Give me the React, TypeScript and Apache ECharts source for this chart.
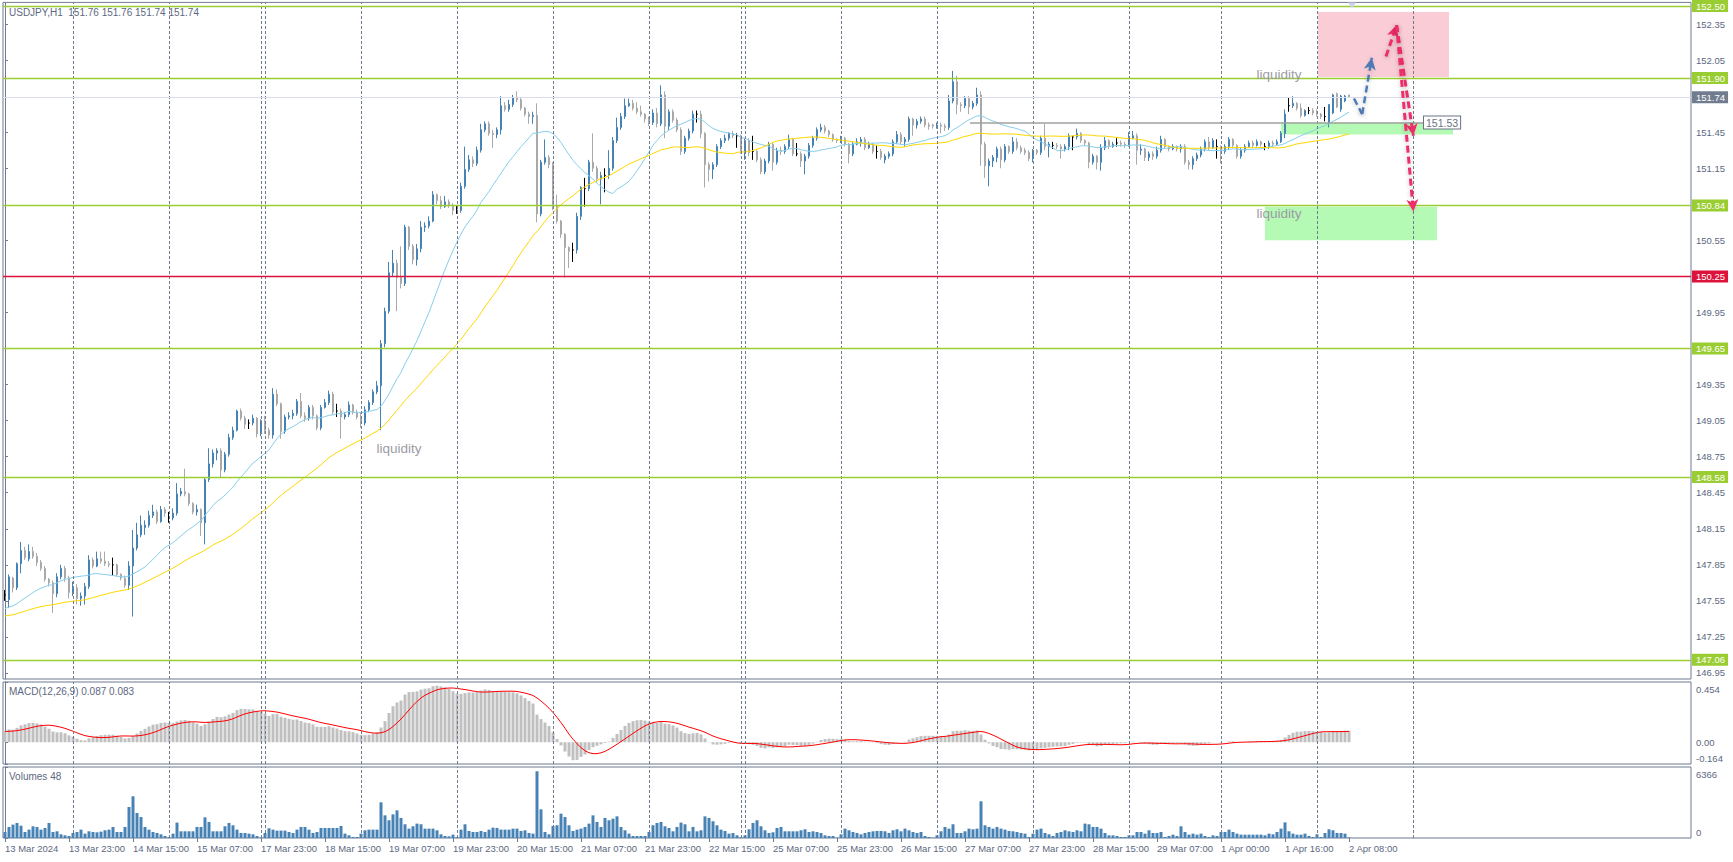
import { useEffect, useRef } from 'react';
import * as echarts from 'echarts';

// ---------------- DATA ----------------
const opens = [
  147.60,147.56,147.74,147.66,147.86,147.97,147.90,147.96,147.92,147.87,
  147.82,147.73,147.70,147.61,147.75,147.82,147.74,147.62,147.66,147.57,
  147.59,147.67,147.89,147.84,147.90,147.88,147.86,147.85,147.85,147.77,
  147.74,147.68,147.84,147.99,148.10,148.16,148.18,148.26,148.29,148.21,
  148.31,148.24,148.24,148.28,148.44,148.46,148.44,148.36,148.29,148.31,
  148.20,148.56,148.69,148.78,148.80,148.64,148.77,148.91,148.97,149.13,
  149.07,149.03,149.03,149.07,148.94,149.05,148.97,148.93,149.27,149.19,
  148.96,149.08,149.09,149.11,149.21,149.09,149.07,149.16,149.09,148.99,
  149.16,149.20,149.27,149.13,149.13,149.08,149.10,149.18,149.12,149.08,
  149.03,149.14,149.20,149.29,149.34,149.69,149.96,150.28,150.36,150.24,
  150.19,150.66,150.50,150.39,150.48,150.66,150.67,150.71,150.93,150.88,
  150.83,150.87,150.84,150.80,150.80,151.00,151.14,151.22,151.19,151.30,
  151.47,151.52,151.44,151.43,151.47,151.67,151.64,151.68,151.74,151.72,
  151.65,151.60,151.58,151.59,150.77,151.20,151.24,151.18,150.84,150.71,
  150.60,150.49,150.47,150.47,150.75,150.98,150.98,151.20,151.15,151.06,
  151.09,151.09,151.15,151.38,151.49,151.58,151.67,151.69,151.65,151.62,
  151.60,151.56,151.53,151.61,151.52,151.76,151.50,151.62,151.55,151.47,
  151.29,151.40,151.46,151.60,151.60,151.44,151.18,151.14,151.18,151.33,
  151.38,151.40,151.44,151.42,151.42,151.29,151.38,151.29,151.29,151.22,
  151.12,151.21,151.35,151.20,151.30,151.29,151.33,151.39,151.27,151.27,
  151.21,151.25,151.34,151.40,151.47,151.49,151.46,151.43,151.39,151.38,
  151.40,151.35,151.27,151.35,151.37,151.39,151.32,151.35,151.29,151.29,
  151.22,151.25,151.27,151.37,151.43,151.37,151.39,151.56,151.51,151.54,
  151.56,151.51,151.51,151.50,151.51,151.50,151.49,151.71,151.87,151.68,
  151.67,151.73,151.66,151.69,151.76,151.35,151.17,151.21,151.24,151.31,
  151.22,151.33,151.29,151.37,151.32,151.30,151.28,151.23,151.30,151.28,
  151.40,151.33,151.34,151.34,151.33,151.31,151.33,151.41,151.41,151.44,
  151.38,151.36,151.20,151.25,151.20,151.32,151.38,151.33,151.36,151.36,
  151.35,151.34,151.40,151.42,151.30,151.31,151.24,151.27,151.25,151.30,
  151.39,151.33,151.31,151.33,151.31,151.33,151.20,151.18,151.23,151.26,
  151.31,151.37,151.32,151.33,151.33,151.29,151.33,151.39,151.34,151.25,
  151.30,151.33,151.36,151.34,151.37,151.33,151.33,151.36,151.35,151.37,
  151.44,151.67,151.67,151.69,151.65,151.59,151.63,151.63,151.61,151.60,
  151.58,151.52,151.61,151.77,151.64,151.71,151.76
];
const highs = [
  147.64,147.77,147.75,147.87,148.04,148.00,148.02,148.00,147.95,147.89,
  147.84,147.74,147.72,147.78,147.85,147.84,147.76,147.71,147.69,147.62,
  147.70,147.93,147.91,147.96,147.96,147.96,147.88,147.91,147.86,147.78,
  147.76,147.88,148.14,148.20,148.26,148.22,148.30,148.35,148.31,148.34,
  148.33,148.29,148.32,148.53,148.49,148.65,148.45,148.37,148.35,148.32,
  148.58,148.82,148.81,148.82,148.82,148.79,148.94,149.00,149.14,149.15,
  149.09,149.06,149.10,149.08,149.06,149.09,148.99,149.32,149.31,149.20,
  149.10,149.12,149.14,149.23,149.28,149.12,149.18,149.18,149.10,149.18,
  149.23,149.30,149.29,149.19,149.15,149.12,149.21,149.19,149.14,149.12,
  149.17,149.22,149.31,149.38,149.72,149.99,150.37,150.47,150.39,150.50,
  150.68,150.67,150.52,150.52,150.71,150.70,150.75,150.96,150.94,150.92,
  150.92,150.89,150.86,150.84,151.03,151.33,151.26,151.25,151.33,151.52,
  151.54,151.54,151.47,151.49,151.75,151.70,151.72,151.76,151.79,151.74,
  151.66,151.62,151.62,151.69,151.22,151.39,151.26,151.20,150.93,150.72,
  150.61,150.50,150.53,150.78,151.00,151.07,151.22,151.44,151.17,151.12,
  151.15,151.30,151.41,151.57,151.61,151.73,151.73,151.72,151.70,151.67,
  151.61,151.58,151.64,151.65,151.84,151.79,151.64,151.64,151.57,151.49,
  151.42,151.48,151.63,151.63,151.63,151.45,151.20,151.20,151.35,151.40,
  151.43,151.45,151.46,151.44,151.43,151.40,151.40,151.42,151.31,151.24,
  151.23,151.37,151.36,151.32,151.33,151.35,151.43,151.40,151.36,151.29,
  151.27,151.36,151.42,151.49,151.52,151.51,151.47,151.44,151.40,151.42,
  151.41,151.36,151.37,151.40,151.41,151.41,151.37,151.36,151.34,151.31,
  151.27,151.29,151.39,151.46,151.45,151.41,151.58,151.57,151.56,151.58,
  151.58,151.53,151.52,151.53,151.53,151.52,151.76,151.96,151.92,151.70,
  151.75,151.75,151.71,151.82,151.79,151.37,151.23,151.26,151.33,151.33,
  151.35,151.34,151.41,151.40,151.34,151.32,151.30,151.31,151.31,151.42,
  151.52,151.37,151.37,151.36,151.35,151.35,151.44,151.42,151.48,151.45,
  151.39,151.37,151.27,151.26,151.35,151.41,151.39,151.37,151.40,151.38,
  151.37,151.45,151.46,151.44,151.35,151.32,151.29,151.29,151.33,151.42,
  151.40,151.34,151.35,151.34,151.35,151.35,151.22,151.25,151.28,151.33,
  151.39,151.41,151.40,151.39,151.34,151.35,151.41,151.40,151.35,151.32,
  151.35,151.38,151.38,151.39,151.38,151.36,151.38,151.38,151.39,151.46,
  151.64,151.74,151.75,151.70,151.69,151.64,151.66,151.65,151.64,151.61,
  151.66,151.68,151.77,151.78,151.76,151.76,151.76
];
const lows = [
  147.55,147.49,147.62,147.64,147.78,147.89,147.88,147.90,147.84,147.80,
  147.71,147.67,147.45,147.58,147.73,147.71,147.57,147.59,147.52,147.51,
  147.52,147.65,147.82,147.83,147.86,147.84,147.83,147.76,147.75,147.72,
  147.66,147.64,147.42,147.97,148.08,148.10,148.16,148.24,148.19,148.20,
  148.25,148.20,148.22,148.26,148.42,148.42,148.34,148.27,148.26,148.09,
  148.02,148.54,148.66,148.72,148.58,148.62,148.75,148.89,148.96,149.05,
  148.98,148.98,149.01,148.91,148.92,148.94,148.90,148.90,149.17,148.90,
  148.94,149.06,149.06,149.09,149.07,149.04,149.05,149.06,148.97,148.97,
  149.15,149.18,149.10,149.08,148.90,149.06,149.08,149.10,149.06,148.99,
  149.01,149.12,149.18,149.27,148.97,149.66,149.94,150.25,149.96,150.15,
  150.17,150.47,150.35,150.34,150.45,150.62,150.65,150.70,150.85,150.81,
  150.82,150.82,150.76,150.77,150.78,150.98,151.12,151.16,151.17,151.28,
  151.45,151.42,151.32,151.40,151.43,151.62,151.62,151.66,151.70,151.63,
  151.58,151.52,151.52,150.70,150.75,151.18,151.15,150.80,150.69,150.57,
  150.24,150.32,150.37,150.44,150.72,150.83,150.96,151.12,151.03,150.85,
  150.95,151.06,151.13,151.36,151.47,151.56,151.66,151.63,151.60,151.58,
  151.53,151.50,151.51,151.49,151.50,151.40,151.47,151.53,151.45,151.26,
  151.27,151.38,151.44,151.53,151.40,150.99,151.04,151.06,151.16,151.31,
  151.36,151.38,151.40,151.32,151.27,151.22,151.25,151.22,151.20,151.10,
  151.10,151.19,151.13,151.18,151.26,151.27,151.31,151.25,151.25,151.16,
  151.10,151.23,151.32,151.38,151.45,151.44,151.41,151.37,151.36,151.36,
  151.33,151.19,151.25,151.34,151.33,151.30,151.31,151.27,151.23,151.22,
  151.19,151.23,151.25,151.35,151.35,151.33,151.37,151.42,151.48,151.52,
  151.49,151.47,151.48,151.48,151.44,151.46,151.47,151.69,151.60,151.62,
  151.65,151.60,151.64,151.67,151.17,151.07,151.00,151.16,151.20,151.15,
  151.20,151.27,151.27,151.30,151.27,151.26,151.21,151.20,151.26,151.26,
  151.30,151.24,151.31,151.31,151.23,151.29,151.30,151.30,151.39,151.36,
  151.34,151.15,151.18,151.14,151.13,151.30,151.31,151.32,151.33,151.33,
  151.32,151.33,151.39,151.18,151.26,151.21,151.21,151.22,151.23,151.28,
  151.31,151.29,151.30,151.29,151.28,151.18,151.14,151.14,151.21,151.24,
  151.29,151.30,151.31,151.23,151.19,151.27,151.31,151.32,151.23,151.23,
  151.28,151.32,151.32,151.33,151.33,151.30,151.31,151.33,151.34,151.36,
  151.40,151.62,151.65,151.63,151.57,151.58,151.60,151.59,151.58,151.56,
  151.54,151.49,151.60,151.65,151.62,151.70,151.74
];
const closes = [
  147.60,147.75,147.66,147.86,147.97,147.91,147.96,147.92,147.87,147.82,
  147.73,147.70,147.61,147.75,147.82,147.74,147.62,147.66,147.57,147.59,
  147.67,147.89,147.84,147.90,147.88,147.86,147.85,147.85,147.77,147.74,
  147.68,147.84,147.99,148.10,148.18,148.18,148.26,148.29,148.21,148.31,
  148.28,148.24,148.28,148.44,148.46,148.44,148.36,148.29,148.31,148.20,
  148.56,148.69,148.78,148.80,148.64,148.77,148.91,148.97,149.13,149.07,
  149.02,149.03,149.07,148.94,149.05,148.97,148.93,149.27,149.19,148.96,
  149.08,149.09,149.11,149.21,149.09,149.07,149.16,149.09,148.99,149.16,
  149.20,149.27,149.12,149.13,149.08,149.10,149.18,149.12,149.08,149.03,
  149.14,149.20,149.29,149.34,149.69,149.96,150.28,150.36,150.24,150.19,
  150.66,150.50,150.39,150.48,150.66,150.67,150.71,150.93,150.88,150.83,
  150.87,150.84,150.80,150.80,151.00,151.14,151.22,151.19,151.30,151.47,
  151.52,151.44,151.43,151.47,151.67,151.64,151.68,151.74,151.72,151.65,
  151.60,151.58,151.59,150.77,151.20,151.24,151.18,150.84,150.71,150.60,
  150.49,150.46,150.47,150.75,150.99,150.98,151.20,151.15,151.06,151.09,
  151.09,151.15,151.38,151.49,151.58,151.67,151.69,151.65,151.62,151.60,
  151.56,151.53,151.61,151.52,151.76,151.50,151.62,151.55,151.47,151.29,
  151.40,151.46,151.60,151.60,151.44,151.18,151.14,151.18,151.33,151.38,
  151.40,151.44,151.42,151.42,151.29,151.38,151.28,151.29,151.22,151.12,
  151.21,151.35,151.20,151.30,151.29,151.33,151.39,151.27,151.27,151.21,
  151.25,151.34,151.40,151.47,151.49,151.46,151.43,151.39,151.38,151.40,
  151.35,151.27,151.35,151.37,151.39,151.32,151.35,151.29,151.29,151.24,
  151.25,151.27,151.37,151.43,151.37,151.39,151.56,151.51,151.54,151.56,
  151.51,151.50,151.50,151.51,151.50,151.49,151.71,151.87,151.68,151.67,
  151.73,151.66,151.69,151.76,151.35,151.17,151.21,151.24,151.31,151.22,
  151.33,151.29,151.37,151.32,151.29,151.28,151.23,151.30,151.28,151.40,
  151.33,151.35,151.34,151.33,151.31,151.33,151.42,151.41,151.44,151.38,
  151.36,151.20,151.25,151.20,151.32,151.38,151.33,151.35,151.36,151.35,
  151.34,151.40,151.42,151.30,151.31,151.24,151.27,151.25,151.30,151.39,
  151.33,151.31,151.33,151.31,151.33,151.20,151.18,151.23,151.26,151.31,
  151.37,151.32,151.38,151.33,151.29,151.33,151.39,151.34,151.25,151.30,
  151.33,151.36,151.34,151.37,151.35,151.33,151.36,151.35,151.37,151.44,
  151.60,151.67,151.69,151.65,151.59,151.63,151.63,151.61,151.60,151.58,
  151.58,151.68,151.76,151.66,151.75,151.75,151.74
];
const volumes = [
  540,990,1200,1350,1100,540,750,1050,990,750,
  900,1350,540,600,330,240,180,450,540,750,
  390,600,540,510,570,690,750,990,540,540,
  990,2780,3740,2240,1880,990,750,540,450,330,
  180,90,390,1380,600,600,600,600,990,990,
  1850,1440,600,600,600,1050,1350,1140,750,450,
  450,390,330,180,50,450,870,750,660,660,
  660,540,450,750,990,990,750,450,540,900,
  900,900,900,900,1080,390,240,90,90,390,
  690,750,750,750,3200,2030,1590,2120,2480,1800,
  1230,840,1050,1290,1230,840,840,840,690,330,
  180,150,300,90,750,1230,630,540,540,630,
  540,750,930,900,750,750,750,840,840,630,
  690,450,390,5980,2570,540,330,1080,1140,2180,
  1880,1140,630,750,840,990,1290,2030,1440,990,
  1800,1590,1730,1940,990,690,390,180,180,180,
  180,540,1140,1350,1440,1050,900,600,990,1380,
  1230,600,990,600,690,1940,1800,1500,1140,750,
  630,390,450,240,90,240,780,1350,1590,1050,
  690,450,510,900,990,600,600,600,600,690,
  780,540,600,540,450,240,180,180,30,330,
  840,690,540,450,330,450,540,600,630,630,
  600,450,690,780,600,840,690,540,450,540,
  180,90,30,240,600,990,840,1230,450,450,
  600,840,780,840,3290,1140,990,840,990,840,
  750,630,600,540,450,390,90,390,750,840,
  450,330,180,450,540,690,600,540,690,600,
  1290,1230,990,990,840,450,240,240,180,90,
  90,240,240,540,540,390,690,450,450,540,
  90,180,300,180,1050,540,300,390,300,390,
  180,90,240,180,540,540,750,540,390,300,
  300,300,300,300,300,240,390,330,540,840,
  1400,600,390,300,300,390,180,90,330,90,
  450,780,690,450,450,390,48
];

const xTickLabels = [
  '13 Mar 2024','13 Mar 23:00','14 Mar 15:00','15 Mar 07:00','17 Mar 23:00','18 Mar 15:00',
  '19 Mar 07:00','19 Mar 23:00','20 Mar 15:00','21 Mar 07:00','21 Mar 23:00','22 Mar 15:00',
  '25 Mar 07:00','25 Mar 23:00','26 Mar 15:00','27 Mar 07:00','27 Mar 23:00','28 Mar 15:00',
  '29 Mar 07:00','1 Apr 00:00','1 Apr 16:00','2 Apr 08:00'
];
const xTickStep = 16;
const daySeparatorBars = [17,41,64,65,89,113,137,161,184,185,209,233,257,281,304,328,352];

const priceTicks = [152.35,152.05,151.45,151.15,150.55,149.95,149.35,149.05,148.75,148.45,148.15,147.85,147.55,147.25,146.95];
const greenLevels = [152.50,151.90,150.84,149.65,148.58,147.06];
const redLevels = [150.25];
const lastPrice = 151.74;
const grayLevel = 151.53;

const macdTickValues = [0.454, 0, -0.164];
const macdTickLabels = ['0.454', '0.00', '-0.164'];
const volTickValues = [6366, 0];
const volTickLabels = ['6366', '0'];

// seeds at the first bar (pre-history levels)
const maFastPeriod = 20, maFastSeed = 147.48;
const maSlowPeriod = 50, maSlowSeed = 147.42;
const ema12Seed = 147.55, ema26Seed = 147.46, macdSeed = 0.08;

// annotation zones (bar index, price)
const pinkZone = [[328.25, 152.45], [361, 151.91]];
const greenZoneSmall = [[319, 151.53], [362, 151.43]];
const greenZoneLow = [[315, 150.83], [358, 150.55]];
const liquidityNotes = [[318.5, 151.93], [318.5, 150.77], [98.5, 148.82]];
const blueArrow = [[337.25, 151.73], [339.3, 151.60], [341.7, 152.07]];
const pinkArrowUp = [[345.25, 152.08], [347.9, 152.34]];
const pinkArrowDown1 = [[347.9, 152.34], [352.1, 151.42]];
const pinkArrowDown2 = [[347.9, 152.34], [352.1, 150.79]];
const grayLevelRange = [241.25, 354.75];

// ---------------- helpers ----------------
function sma(period: number, seed: number) {
  return closes.map((_, i) => {
    let s = 0;
    for (let k = i - period + 1; k <= i; k++) s += k >= 0 ? closes[k] : seed;
    return s / period;
  });
}
function ema(period: number, seed: number) {
  const a = 2 / (period + 1);
  let e = seed;
  return closes.map((c) => (e = e + a * (c - e)));
}

const FONT = '"Liberation Sans", Arial, sans-serif';
const FRAME = '#6f7b90';
const TXT = '#5d6880';
const SEP = '#6d7a8f';

export default function App() {
  const ref = useRef<HTMLDivElement>(null);
  useEffect(() => {
    const chart = echarts.init(ref.current!, null, { renderer: 'svg' });

    const maFast = sma(maFastPeriod, maFastSeed);
    const maSlow = sma(maSlowPeriod, maSlowSeed);
    const e12 = ema(12, ema12Seed);
    const e26 = ema(26, ema26Seed);
    const macd = e12.map((v, i) => v - e26[i]);
    const signal = macd.map((_, i) => {
      let s = 0;
      for (let k = i - 8; k <= i; k++) s += k >= 0 ? macd[k] : macdSeed;
      return s / 9;
    });

    const candleData = closes.map((c, i) => [i, opens[i], c, lows[i], highs[i]]);
    const sepLines = daySeparatorBars.map((b) => ({ xAxis: b }));
    const sepMarkLine = {
      silent: true,
      symbol: ['none', 'none'],
      label: { show: false },
      lineStyle: { color: SEP, width: 1, type: [3, 2] },
      data: sepLines,
      animation: false,
    };

    const richBase = { fontSize: 9.5, fontFamily: FONT, padding: [1, 3, 1, 4], lineHeight: 10 };
    const yRich = {
      n: { ...richBase, color: TXT },
      g: { ...richBase, color: '#ffffff', backgroundColor: '#9ACD32' },
      r: { ...richBase, color: '#ffffff', backgroundColor: '#DC143C' },
      c: { ...richBase, color: '#ffffff', backgroundColor: '#717d8f' },
      t: { ...richBase, color: TXT, padding: [15, 3, 1, 4] },
      b: { ...richBase, color: TXT, padding: [1, 3, 13, 4] },
    };
    const fmt2 = (v: number) => v.toFixed(2);
    const mainLabelValues = [...priceTicks, ...greenLevels, ...redLevels, lastPrice];

    const arrowSeg = (p: number[][], color: string, width: number, arrow: boolean) => [
      {
        coord: p[0],
        symbol: 'none',
        lineStyle: { color, width, type: [7, 4], shadowBlur: 4, shadowColor: 'rgba(0,0,0,0.25)', shadowOffsetY: 1 },
      },
      { coord: p[1], symbol: arrow ? 'arrow' : 'none', symbolSize: [9, 12], itemStyle: { color } },
    ];
    const BLUE_ARROW = '#4f7bb5';
    const PINK_ARROW = '#ee2d6b';

    const xBase = {
      type: 'value',
      min: -0.5,
      max: 421.5,
      splitLine: { show: false },
      axisLine: { show: false },
      axisTick: { show: false },
      axisLabel: { show: false },
    };

    const option: any = {
      animation: false,
      backgroundColor: '#ffffff',
      textStyle: { fontFamily: FONT },
      title: [
        { text: 'USDJPY,H1  151.76 151.76 151.74 151.74', left: 9, top: 7, padding: 0, textStyle: { fontSize: 10, fontWeight: 'normal', color: TXT, fontFamily: FONT } },
        { text: 'MACD(12,26,9) 0.087 0.083', left: 9, top: 686, padding: 0, textStyle: { fontSize: 10, fontWeight: 'normal', color: TXT, fontFamily: FONT } },
        { text: 'Volumes 48', left: 9, top: 771, padding: 0, textStyle: { fontSize: 10, fontWeight: 'normal', color: TXT, fontFamily: FONT } },
      ],
      grid: [
        { left: 3, right: 42, top: 2, height: 677, show: true, borderColor: FRAME, borderWidth: 1, backgroundColor: 'transparent' },
        { left: 3, right: 42, top: 682, height: 82, show: true, borderColor: FRAME, borderWidth: 1, backgroundColor: 'transparent' },
        { left: 3, right: 42, top: 767, height: 71, show: true, borderColor: FRAME, borderWidth: 1, backgroundColor: 'transparent' },
      ],
      xAxis: [
        { ...xBase, gridIndex: 0 },
        { ...xBase, gridIndex: 1 },
        {
          ...xBase,
          gridIndex: 2,
          axisTick: {
            show: true,
            customValues: xTickLabels.map((_, k) => k * xTickStep),
            length: 4,
            lineStyle: { color: FRAME },
          },
          axisLabel: {
            show: true,
            customValues: xTickLabels.map((_, k) => k * xTickStep),
            formatter: (v: number) => xTickLabels[Math.round(v / xTickStep)] ?? '',
            align: 'left',
            margin: 5,
            fontSize: 9.5,
            color: TXT,
            fontFamily: FONT,
          },
        },
      ],
      yAxis: [
        {
          gridIndex: 0,
          type: 'value',
          position: 'right',
          min: 146.9,
          max: 152.53,
          splitLine: { show: false },
          axisLine: { show: true, lineStyle: { color: FRAME } },
          axisTick: { show: true, length: 3, customValues: mainLabelValues, lineStyle: { color: FRAME } },
          axisLabel: {
            customValues: mainLabelValues,
            margin: 1,
            rich: yRich,
            formatter: (v: number) => {
              const s = fmt2(v);
              if (greenLevels.some((g) => fmt2(g) === s)) return `{g|${s}}`;
              if (redLevels.some((g) => fmt2(g) === s)) return `{r|${s}}`;
              if (fmt2(lastPrice) === s) return `{c|${s}}`;
              return `{n|${s}}`;
            },
          },
        },
        {
          gridIndex: 1,
          type: 'value',
          position: 'right',
          min: -0.164,
          max: 0.454,
          splitLine: { show: false },
          axisLine: { show: true, lineStyle: { color: FRAME } },
          axisTick: { show: true, length: 3, customValues: macdTickValues, lineStyle: { color: FRAME } },
          axisLabel: {
            customValues: macdTickValues,
            margin: 1,
            rich: yRich,
            formatter: (v: number) => {
              const k = macdTickValues.findIndex((t) => Math.abs(t - v) < 1e-6);
              const s = k >= 0 ? macdTickLabels[k] : '';
              return k === 0 ? `{t|${s}}` : k === 2 ? `{b|${s}}` : `{n|${s}}`;
            },
          },
        },
        {
          gridIndex: 2,
          type: 'value',
          position: 'right',
          min: 0,
          max: 6366,
          splitLine: { show: false },
          axisLine: { show: true, lineStyle: { color: FRAME } },
          axisTick: { show: true, length: 3, customValues: volTickValues, lineStyle: { color: FRAME } },
          axisLabel: {
            customValues: volTickValues,
            margin: 1,
            rich: yRich,
            formatter: (v: number) => {
              const k = volTickValues.findIndex((t) => Math.abs(t - v) < 1e-6);
              const s = k >= 0 ? volTickLabels[k] : '';
              return k === 0 ? `{t|${s}}` : `{b|${s}}`;
            },
          },
        },
      ],
      series: [
        {
          type: 'candlestick',
          xAxisIndex: 0,
          yAxisIndex: 0,
          data: candleData,
          barWidth: 2,
          itemStyle: {
            color: '#4682B4',
            color0: '#A9A9A9',
            borderColor: '#4682B4',
            borderColor0: '#A9A9A9',
            borderColorDoji: '#000000',
            borderWidth: 1,
          },
          markArea: {
            silent: true,
            data: [
              [{ coord: pinkZone[0], itemStyle: { color: 'rgb(249,204,214)' } }, { coord: pinkZone[1] }],
              [{ coord: greenZoneSmall[0], itemStyle: { color: 'rgb(180,249,180)' } }, { coord: greenZoneSmall[1] }],
              [{ coord: greenZoneLow[0], itemStyle: { color: 'rgb(180,249,180)' } }, { coord: greenZoneLow[1] }],
            ],
          },
          markLine: {
            silent: true,
            symbol: ['none', 'none'],
            label: { show: false },
            lineStyle: { color: SEP, width: 1, type: [3, 2] },
            animation: false,
            data: [
              ...sepLines,
              { yAxis: lastPrice, lineStyle: { color: '#dcdcf0', width: 1, type: 'solid' } },
              ...greenLevels.map((g) => ({ yAxis: g, lineStyle: { color: '#9ACD32', width: 1.3, type: 'solid' } })),
              ...redLevels.map((g) => ({ yAxis: g, lineStyle: { color: '#DC143C', width: 1.3, type: 'solid' } })),
              [
                {
                  coord: [grayLevelRange[0], grayLevel],
                  lineStyle: { color: '#a0a0a0', width: 1.5, type: 'solid' },
                  label: {
                    show: true,
                    position: 'end',
                    distance: 0,
                    formatter: fmt2(grayLevel),
                    color: '#6a7283',
                    fontSize: 10.5,
                    fontFamily: FONT,
                    backgroundColor: '#ffffff',
                    borderColor: '#6a7283',
                    borderWidth: 1,
                    padding: [1, 2, 0, 2],
                  },
                },
                { coord: [grayLevelRange[1], grayLevel] },
              ],
              arrowSeg([blueArrow[0], blueArrow[1]], BLUE_ARROW, 2.5, false),
              arrowSeg([blueArrow[1], blueArrow[2]], BLUE_ARROW, 2.5, true),
              arrowSeg(pinkArrowUp, PINK_ARROW, 3, true),
              arrowSeg(pinkArrowDown1, PINK_ARROW, 3, true),
              arrowSeg(pinkArrowDown2, PINK_ARROW, 3, true),
            ],
          },
          markPoint: {
            silent: true,
            data: [
              ...liquidityNotes.map((p) => ({
                coord: p,
                symbol: 'circle',
                symbolSize: 1,
                itemStyle: { color: 'rgba(0,0,0,0)' },
                label: { show: true, position: 'inside', formatter: 'liquidity', color: '#9c9ca4', fontSize: 13.5, fontFamily: FONT },
              })),
              {
                coord: [336.75, 152.505],
                symbol: 'triangle',
                symbolRotate: 180,
                symbolSize: [8, 6],
                itemStyle: { color: '#cfd0ee' },
                label: { show: false },
              },
            ],
          },
        },
        {
          type: 'line',
          xAxisIndex: 0,
          yAxisIndex: 0,
          data: maFast.map((v, i) => [i, v]),
          showSymbol: false,
          lineStyle: { color: '#87CEEB', width: 1 },
          silent: true,
        },
        {
          type: 'line',
          xAxisIndex: 0,
          yAxisIndex: 0,
          data: maSlow.map((v, i) => [i, v]),
          showSymbol: false,
          lineStyle: { color: '#FFD700', width: 1 },
          silent: true,
        },
        {
          type: 'bar',
          xAxisIndex: 1,
          yAxisIndex: 1,
          data: macd.map((v, i) => [i, v]),
          barWidth: 3,
          itemStyle: { color: '#C0C0C0' },
          silent: true,
          markLine: sepMarkLine,
        },
        {
          type: 'line',
          xAxisIndex: 1,
          yAxisIndex: 1,
          data: signal.map((v, i) => [i, v]),
          showSymbol: false,
          lineStyle: { color: '#FF0000', width: 1 },
          silent: true,
        },
        {
          type: 'bar',
          xAxisIndex: 2,
          yAxisIndex: 2,
          data: volumes.map((v, i) => [i, v]),
          barWidth: 3,
          itemStyle: { color: '#4682B4' },
          silent: true,
          markLine: sepMarkLine,
        },
      ],
    };

    chart.setOption(option);
    return () => chart.dispose();
  }, []);

  return (
    <div
      ref={ref}
      style={{ position: 'fixed', left: 0, top: 0, width: 1733, height: 862, background: '#ffffff' }}
    />
  );
}
